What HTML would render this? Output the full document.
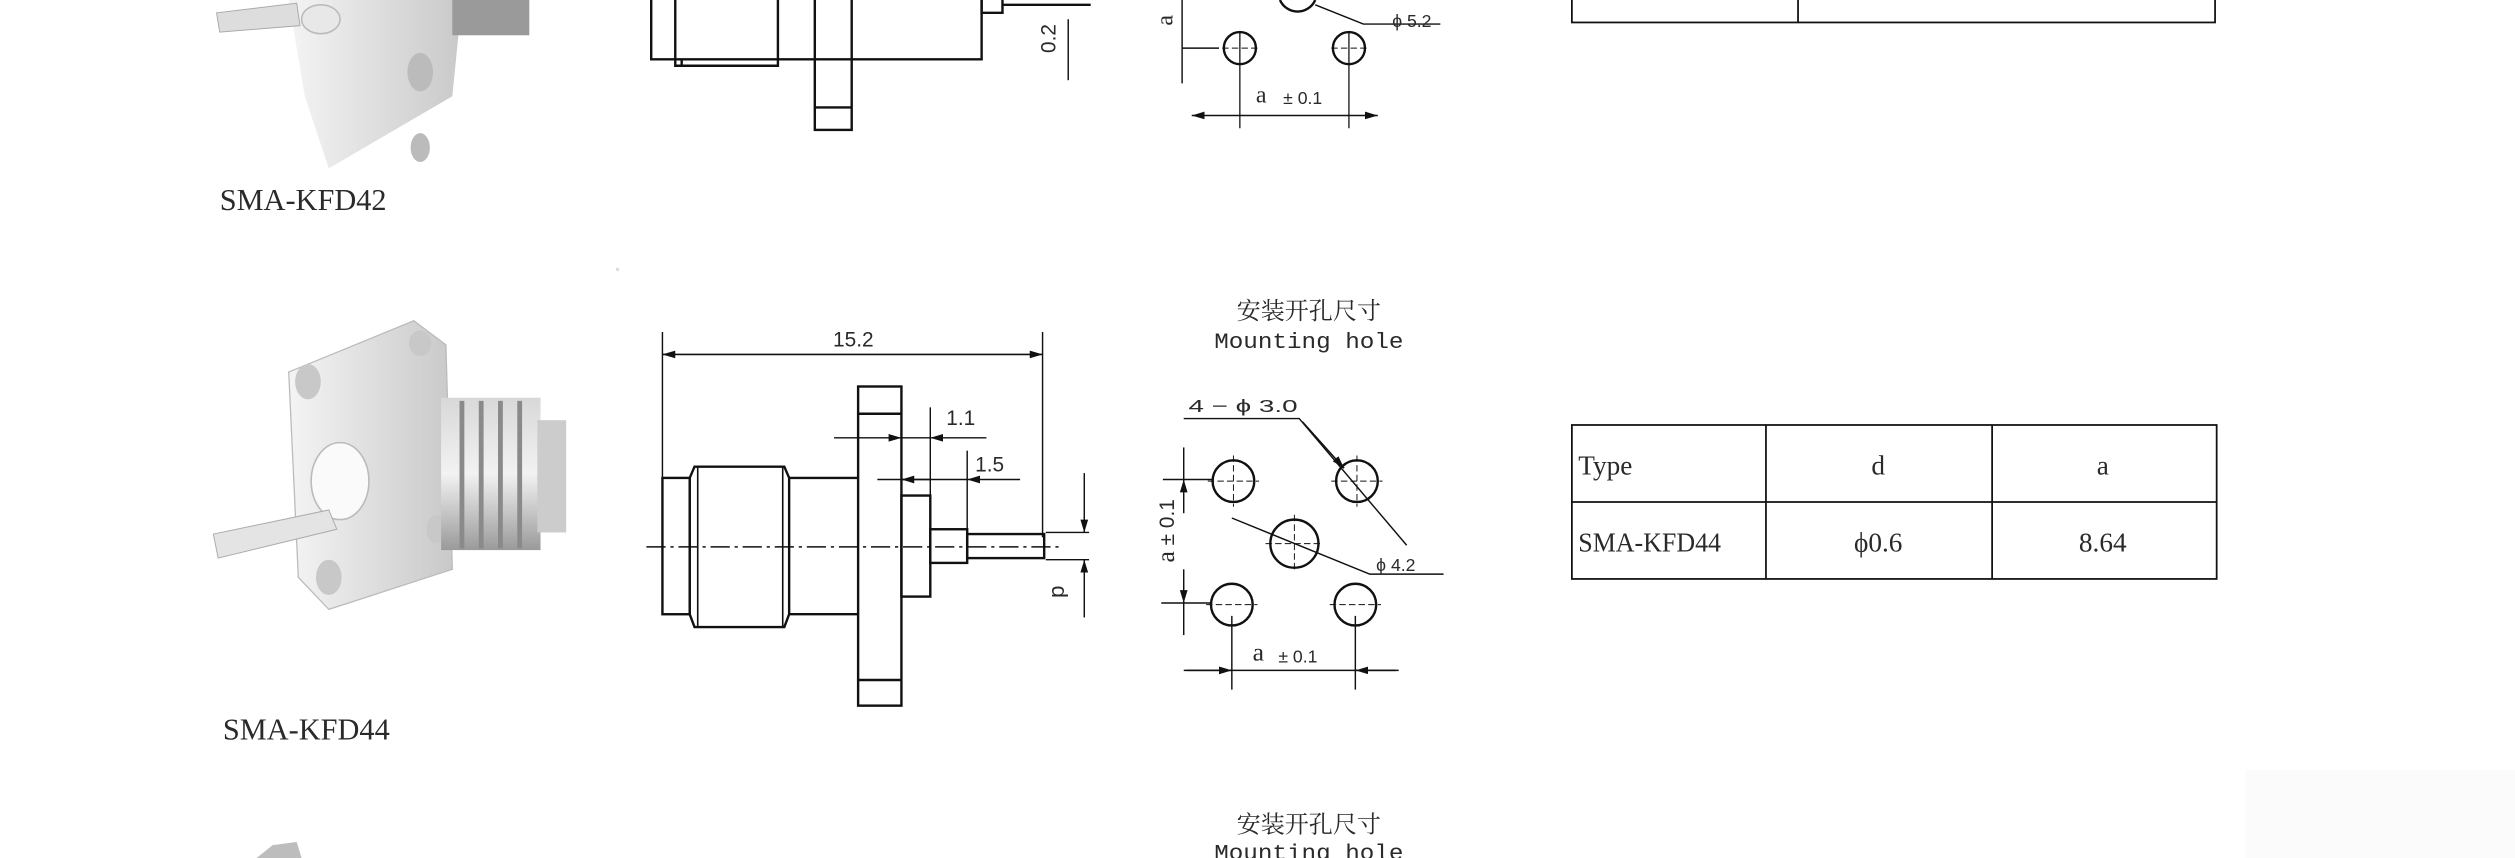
<!DOCTYPE html>
<html><head><meta charset="utf-8"><style>
html,body{margin:0;padding:0;background:#fff;}
svg{display:block;}
text{font-family:"Liberation Sans","Noto Sans CJK SC",sans-serif;fill:#2a2a2a;}
.s{font-family:"Liberation Serif","Noto Serif CJK SC",serif;}
.m{font-family:"Liberation Mono","Noto Sans CJK SC",monospace;}
</style></head><body>
<svg width="2515" height="858" viewBox="0 0 1568 535" preserveAspectRatio="none" xmlns="http://www.w3.org/2000/svg">
<defs>
<marker id="ar" viewBox="0 0 10 6" refX="10" refY="3" markerWidth="8" markerHeight="5" orient="auto-start-reverse" markerUnits="userSpaceOnUse"><path d="M0,0L10,3L0,6z" fill="#111"/></marker>
<linearGradient id="g1" x1="0" x2="1"><stop offset="0" stop-color="#f4f4f4"/><stop offset="1" stop-color="#c9c9c9"/></linearGradient>
<linearGradient id="g2" x1="0" y1="0" x2="0" y2="1"><stop offset="0" stop-color="#d8d8d8"/><stop offset="0.5" stop-color="#f2f2f2"/><stop offset="1" stop-color="#9a9a9a"/></linearGradient>
</defs>
<rect x="1400" y="480" width="168" height="55" fill="#fbfbfb"/>

<!-- ===== TOP SECTION ===== -->
<g>
<polygon points="180,0 288,0 282,60 205,105 190,60" fill="url(#g1)"/>
<rect x="282" y="0" width="48" height="22" fill="#9a9a9a"/>
<polygon points="135,8 185,2 187,16 137,20" fill="#ddd" stroke="#aaa" stroke-width="0.6"/>
<ellipse cx="262" cy="45" rx="8" ry="12" fill="#bbb"/>
<ellipse cx="262" cy="92" rx="6" ry="9" fill="#bbb"/>
<ellipse cx="200" cy="12" rx="12" ry="9" fill="#e8e8e8" stroke="#bbb"/>
</g>
<g fill="none" stroke="#111" stroke-width="1.5">
<path d="M406,0V37H612V0"/>
<path d="M421,0V41H485V0"/>
<path d="M425,37V41"/>
<rect x="508" y="-2" width="23" height="83"/>
<path d="M508,67H531"/>
<path d="M612,0V8H625V0"/>
<path d="M625,3H680"/>
<path d="M666,12V50" stroke-width="0.9"/>
<path d="M737,0V52" stroke-width="0.9"/>
<path d="M737,30H760" stroke-width="0.9"/>
<circle cx="773" cy="30" r="10"/>
<circle cx="841" cy="30" r="10"/>
<path d="M798,0 A12,12 0 0 0 820,0" />
<path d="M820,3L850,15H898" stroke-width="0.9"/>
<path d="M743,72H859" stroke-width="0.9" marker-start="url(#ar)" marker-end="url(#ar)"/>
<path d="M773,20V80M841,20V80" stroke-width="0.8"/>
<path d="M762,30H784M830,30H852" stroke-width="0.6" stroke-dasharray="4,2"/>
<rect x="980" y="-2" width="401" height="16" stroke-width="1.1"/>
<path d="M1121,0V14" stroke-width="1.1"/>
</g>
<text x="661" y="33" font-size="13" transform="rotate(-90 655 30)" text-anchor="middle">0.2</text>
<text x="727" y="20" font-size="15" transform="rotate(-90 727 16)" class="s">a</text>
<text x="868" y="17" font-size="11">ϕ 5.2</text>
<text x="783" y="64" font-size="15" class="s">a</text><text x="800" y="65" font-size="11">± 0.1</text>
<text x="137" y="131" font-size="19" class="s" textLength="104" lengthAdjust="spacingAndGlyphs">SMA-KFD42</text>
<rect x="384" y="167" width="2" height="2" fill="#ddd"/>

<!-- ===== MIDDLE SECTION ===== -->
<g>
<polygon points="180,232 258,200 278,215 282,355 205,380 186,360" fill="url(#g1)" stroke="#bbb" stroke-width="0.8"/>
<ellipse cx="192" cy="238" rx="8" ry="11" fill="#c8c8c8"/>
<ellipse cx="262" cy="214" rx="7" ry="8" fill="#c8c8c8"/>
<ellipse cx="205" cy="360" rx="8" ry="11" fill="#c8c8c8"/>
<ellipse cx="272" cy="330" rx="6" ry="9" fill="#c8c8c8"/>
<rect x="275" y="248" width="62" height="95" fill="url(#g2)"/>
<g stroke="#8a8a8a" stroke-width="3"><path d="M288,250V342M300,250V342M312,250V342M324,250V342"/></g>
<rect x="335" y="262" width="18" height="70" fill="#ccc"/>
<ellipse cx="212" cy="300" rx="18" ry="24" fill="#fafafa" stroke="#bbb"/>
<polygon points="133,333 205,318 210,330 136,348" fill="#e4e4e4" stroke="#aaa" stroke-width="0.6"/>
</g>
<g fill="none" stroke="#111" stroke-width="1.5">
<path d="M413,207V300M650,207V335" stroke-width="0.9"/>
<path d="M413,221H650" stroke-width="1" marker-start="url(#ar)" marker-end="url(#ar)"/>
<rect x="413" y="298" width="17" height="85"/>
<path d="M430,298L433,291H489L492,298V383L489,391H433L430,383Z"/>
<path d="M435,291V391M488,291V391" stroke-width="1"/>
<path d="M492,298H535M492,383H535"/>
<rect x="535" y="241" width="27" height="199"/>
<path d="M535,258H562M535,424H562"/>
<rect x="562" y="309" width="18" height="63"/>
<rect x="580" y="330" width="23" height="21"/>
<rect x="603" y="333" width="48" height="15"/>
<path d="M403,341H660" stroke-width="0.9" stroke-dasharray="12,3,2,3"/>
<path d="M580,254V309" stroke-width="0.9"/>
<path d="M520,273H562" stroke-width="0.9" marker-end="url(#ar)"/>
<path d="M615,273H580" stroke-width="0.9" marker-end="url(#ar)"/>
<path d="M562,273H580" stroke-width="0.9"/>
<path d="M603,281V333" stroke-width="0.9"/>
<path d="M580,299H562" stroke-width="0.9" marker-end="url(#ar)"/>
<path d="M636,299H603" stroke-width="0.9" marker-end="url(#ar)"/>
<path d="M547,299H603" stroke-width="0.9"/>
<path d="M652,332H679M652,349H679" stroke-width="0.9"/>
<path d="M676,295V332" stroke-width="0.9" marker-end="url(#ar)"/>
<path d="M676,385V349" stroke-width="0.9" marker-end="url(#ar)"/>
<circle cx="769" cy="300" r="13"/>
<circle cx="846" cy="300" r="13"/>
<circle cx="807" cy="339" r="15"/>
<circle cx="768" cy="377" r="13"/>
<circle cx="845" cy="377" r="13"/>
<g stroke-width="0.6" stroke-dasharray="4,2">
<path d="M753,300H785M769,284V316M830,300H862M846,284V316M789,339H825M807,321V357M752,377H784M829,377H861"/>
</g>
<path d="M725,299H756M724,376H755" stroke-width="0.9"/>
<path d="M738,279V299" stroke-width="0.9"/>
<path d="M738,320V299" stroke-width="0.9" marker-end="url(#ar)"/>
<path d="M738,355V376" stroke-width="0.9" marker-end="url(#ar)"/>
<path d="M738,376V396" stroke-width="0.9"/>
<path d="M768,384V430M845,384V430" stroke-width="0.9"/>
<path d="M738,418H872" stroke-width="0.9"/>
<path d="M740,418H768" stroke-width="0.9" marker-end="url(#ar)"/>
<path d="M870,418H845" stroke-width="0.9" marker-end="url(#ar)"/>
<path d="M738,261H810L877,340" stroke-width="0.9"/>
<path d="M812,263L838,292" stroke-width="0.9" marker-end="url(#ar)"/>
<path d="M768,323L854,358H900" stroke-width="0.9"/>
<g stroke-width="1.1">
<rect x="980" y="265" width="402" height="96"/>
<path d="M980,313H1382M1101,265V361M1242,265V361"/>
</g>
</g>
<text x="532" y="216" font-size="13" text-anchor="middle">15.2</text>
<text x="599" y="265" font-size="13" text-anchor="middle">1.1</text>
<text x="617" y="294" font-size="13" text-anchor="middle">1.5</text>
<text x="660" y="373" font-size="14" text-anchor="middle" transform="rotate(90 660 369)">d</text>
<text x="816" y="199" font-size="15" text-anchor="middle" class="s">安装开孔尺寸</text>
<text x="816" y="217" font-size="14" text-anchor="middle" class="m" textLength="118" lengthAdjust="spacingAndGlyphs">Mounting hole</text>
<text x="741" y="257" font-size="11" textLength="68" lengthAdjust="spacingAndGlyphs">4 − ϕ 3.0</text>
<text x="858" y="356" font-size="11">ϕ 4.2</text>
<text x="732" y="339" font-size="13" text-anchor="middle" transform="rotate(-90 728 335)"><tspan class="s" font-size="16">a</tspan> ± 0.1</text>
<text x="781" y="412" font-size="16" class="s">a</text><text x="797" y="413" font-size="11">± 0.1</text>
<g class="s" font-size="17">
<text x="984" y="296" class="s">Type</text>
<text x="1171" y="296" class="s" text-anchor="middle">d</text>
<text x="1311" y="296" class="s" text-anchor="middle">a</text>
<text x="984" y="344" class="s" textLength="89" lengthAdjust="spacingAndGlyphs">SMA-KFD44</text>
<text x="1171" y="344" class="s" text-anchor="middle">ϕ0.6</text>
<text x="1311" y="344" class="s" text-anchor="middle">8.64</text>
</g>
<text x="139" y="461" font-size="19" class="s" textLength="104" lengthAdjust="spacingAndGlyphs">SMA-KFD44</text>

<text x="816" y="519" font-size="15" text-anchor="middle" class="s">安装开孔尺寸</text>
<text x="816" y="536" font-size="14" text-anchor="middle" class="m" textLength="118" lengthAdjust="spacingAndGlyphs">Mounting hole</text>
<polygon points="160,535 170,527 185,525 188,535" fill="#bdbdbd"/>
</svg>
</body></html>
